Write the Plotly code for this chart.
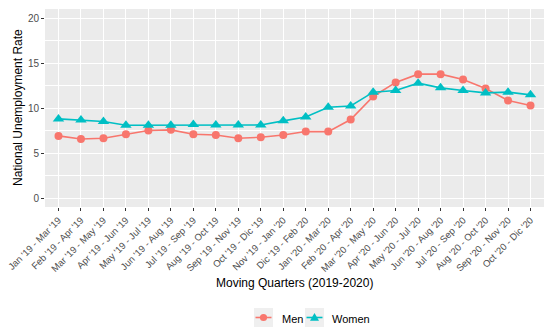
import plotly.graph_objects as go

quarters = ["Jan '19 - Mar '19", "Feb '19 - Apr '19", "Mar '19 - May '19", "Apr '19 - Jun '19",
            "May '19 - Jul '19", "Jun '19 - Aug '19", "Jul '19 - Sep '19", "Aug '19 - Oct '19",
            "Sep '19 - Nov '19", "Oct '19 - Dic '19", "Nov '19 - Jan '20", "Dic '19 - Feb '20",
            "Jan '20 - Mar '20", "Feb '20 - Apr '20", "Mar '20 - May '20", "Apr '20 - Jun '20",
            "May '20 - Jul '20", "Jun '20 - Aug '20", "Jul '20 - Sep '20", "Aug '20 - Oct '20",
            "Sep '20 - Nov '20", "Oct '20 - Dic '20"]
men = [6.9, 6.56, 6.64, 7.08, 7.5, 7.57, 7.08, 7.0, 6.64, 6.75, 7.0, 7.38,
       7.38, 8.72, 11.28, 12.84, 13.76, 13.76, 13.17, 12.17, 10.83, 10.28]
women = [8.79, 8.68, 8.5, 8.09, 8.09, 8.09, 8.16, 8.12, 8.12, 8.12, 8.57, 9.0,
         10.09, 10.23, 11.76, 11.95, 12.76, 12.24, 11.95, 11.68, 11.76, 11.46]
y_ticks = [0, 5, 10, 15, 20]
series_names = ["Men", "Women"]

MEN_C = "#F8766D"
WOMEN_C = "#00BFC4"
FONT = "Liberation Sans, Arial, sans-serif"

W, H = 550, 334
ML, MR, MT, MB = 45, 6, 9, 127
PW, PH = W - ML - MR, H - MT - MB


def px(x):
    return (x - ML) / PW


def py(y):
    return (MT + PH - y) / PH


fig = go.Figure()
fig.add_trace(go.Scatter(x=quarters, y=men, name=series_names[0], mode="lines+markers",
                         line=dict(color=MEN_C, width=1.6),
                         marker=dict(symbol="circle", size=8, color=MEN_C)))
fig.add_trace(go.Scatter(x=quarters, y=women, name=series_names[1], mode="lines+markers",
                         line=dict(color=WOMEN_C, width=1.6),
                         marker=dict(symbol="triangle-up", size=10, color=WOMEN_C)))

# custom ggplot-style legend (keys with grey boxes)
shapes = []
annotations = []
key_boxes = [(254, 273), (305, 324)]
ky0, ky1 = 308, 327
kyc = (ky0 + ky1) / 2
for (x0, x1), col in zip(key_boxes, [MEN_C, WOMEN_C]):
    shapes.append(dict(type="rect", xref="paper", yref="paper",
                       x0=px(x0), x1=px(x1), y0=py(ky1), y1=py(ky0),
                       fillcolor="#EFEFEF", line=dict(width=0)))
    shapes.append(dict(type="line", xref="paper", yref="paper",
                       x0=px(x0 + 1.5), x1=px(x1 - 1.5), y0=py(kyc), y1=py(kyc),
                       line=dict(color=col, width=1.6)))
cx = sum(key_boxes[0]) / 2
shapes.append(dict(type="circle", xref="paper", yref="paper",
                   x0=px(cx - 3.6), x1=px(cx + 3.6), y0=py(kyc + 3.6), y1=py(kyc - 3.6),
                   fillcolor=MEN_C, line=dict(width=0)))
tx = sum(key_boxes[1]) / 2
tri = "M {} {} L {} {} L {} {} Z".format(px(tx - 4.5), py(kyc + 3.2), px(tx + 4.5), py(kyc + 3.2),
                                        px(tx), py(kyc - 4.6))
shapes.append(dict(type="path", xref="paper", yref="paper", path=tri,
                   fillcolor=WOMEN_C, line=dict(width=0)))
for name, xl in zip(series_names, [280, 330]):
    annotations.append(dict(text=name, xref="paper", yref="paper", x=px(xl), y=py(kyc + 1),
                            xanchor="left", yanchor="middle", showarrow=False,
                            font=dict(size=11, color="black", family=FONT)))

annotations.append(dict(text="Moving Quarters (2019-2020)", xref="paper", yref="paper",
                        x=px(ML + PW / 2), y=py(283), xanchor="center", yanchor="middle",
                        showarrow=False, font=dict(size=12, color="black", family=FONT)))
annotations.append(dict(text="National Unemployment Rate", xref="paper", yref="paper",
                        x=px(18), y=0.5, xanchor="center", yanchor="middle", textangle=-90,
                        showarrow=False, font=dict(size=12, color="black", family=FONT)))

fig.update_layout(
    width=W, height=H,
    margin=dict(l=ML, r=MR, t=MT, b=MB, autoexpand=False),
    paper_bgcolor="white", plot_bgcolor="#EBEBEB",
    font=dict(family=FONT, color="black"),
    showlegend=False,
    xaxis=dict(type="category", range=[-0.6, 21.6], tickangle=-45,
               tickfont=dict(size=9.5, color="#4D4D4D", family=FONT),
               showgrid=True, gridcolor="white", gridwidth=1,
               ticks="outside", ticklen=3, tickcolor="#333333", tickwidth=1,
               zeroline=False, showline=False, automargin=False),
    yaxis=dict(range=[-1, 21], tickvals=y_ticks,
               tickfont=dict(size=10, color="#4D4D4D", family=FONT),
               showgrid=True, gridcolor="white", gridwidth=1,
               minor=dict(dtick=2.5, tick0=0, showgrid=True, gridcolor="white", gridwidth=0.5),
               ticks="outside", ticklen=3, tickcolor="#333333", tickwidth=1,
               zeroline=False, showline=False, automargin=False),
    shapes=shapes,
    annotations=annotations,
)

fig.write_html("out.html", config={"displayModeBar": False},
               post_script="document.body.style.margin='0';")
